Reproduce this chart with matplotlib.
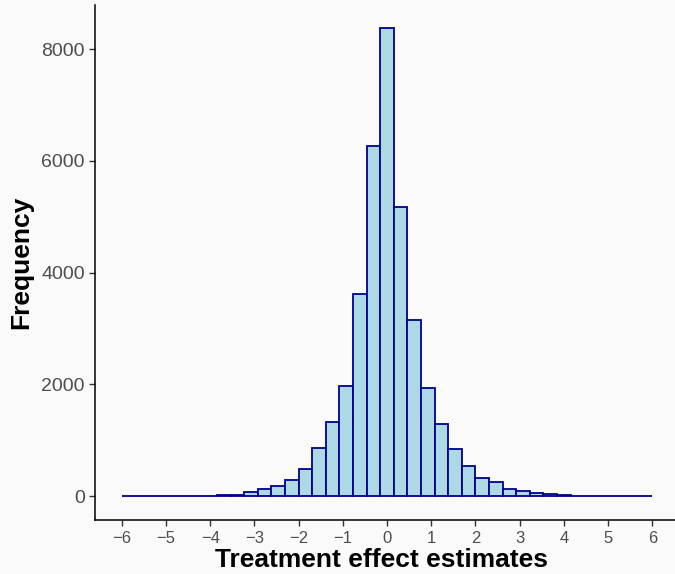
"""
Histogram of the treatment effect estimates.
"""
# Imports.
import numpy as np
import matplotlib
matplotlib.use('Agg')
import matplotlib.pyplot as plt

# Data.
BIN_LOW   = -6.0
BIN_HIGH  = 6.0
N_BINS    = 39

COUNTS = [1, 2, 3, 5, 7, 9, 13, 18, 28, 84,
          125, 179, 298, 485, 870, 1333, 1975, 3612, 6261, 8370,
          5171, 3161, 1934, 1295, 845, 548, 334, 256, 131, 95,
          60, 42, 24, 14, 9, 6, 4, 2, 1]

X_TICKS = [-6, -5, -4, -3, -2, -1, 0, 1, 2, 3, 4, 5, 6]
Y_TICKS = [0, 2000, 4000, 6000, 8000]

# Plot.
plt.rcParams['font.family'] = ['Liberation Sans', 'DejaVu Sans']
plt.rcParams['axes.unicode_minus'] = True

fig = plt.figure(figsize=(6.75, 5.74), dpi=100, facecolor='#FAFAFA')
ax = fig.add_axes([0.1412, 0.0946, 0.8644, 0.8967])
ax.set_facecolor('#FAFAFA')

edges = np.linspace(BIN_LOW, BIN_HIGH, N_BINS + 1)
ax.bar(edges[:-1], COUNTS, width=np.diff(edges), align='edge',
       color='#ADD8E6', edgecolor='#00008B', linewidth=1.3)

span = BIN_HIGH - BIN_LOW
ax.set_xlim(BIN_LOW - 0.05 * span, BIN_HIGH + 0.05 * span)
ymax = max(COUNTS)
ax.set_ylim(-0.05 * ymax, 1.05 * ymax)

ax.set_xticks(X_TICKS)
ax.set_xticklabels([str(t).replace('-', '\u2212') for t in X_TICKS])
ax.set_yticks(Y_TICKS)

ax.tick_params(axis='x', colors='#333333', labelcolor='#4D4D4D', labelsize=12, length=4, width=1, pad=4)
ax.tick_params(axis='y', colors='#333333', labelcolor='#4D4D4D', labelsize=14, length=4, width=1)

for side in ['top', 'right']:
    ax.spines[side].set_visible(False)
for side in ['left', 'bottom']:
    ax.spines[side].set_linewidth(1.1)
    ax.spines[side].set_color('black')

ax.set_xlabel('Treatment effect estimates', fontsize=19, fontweight='bold', labelpad=0)
ax.set_ylabel('Frequency', fontsize=19, fontweight='bold', labelpad=6)
ax.xaxis.set_label_coords(0.4905, -0.0545, transform=ax.transAxes)
ax.xaxis.label.set_va('top')

plt.savefig('out.png', dpi=100, facecolor=fig.get_facecolor())
